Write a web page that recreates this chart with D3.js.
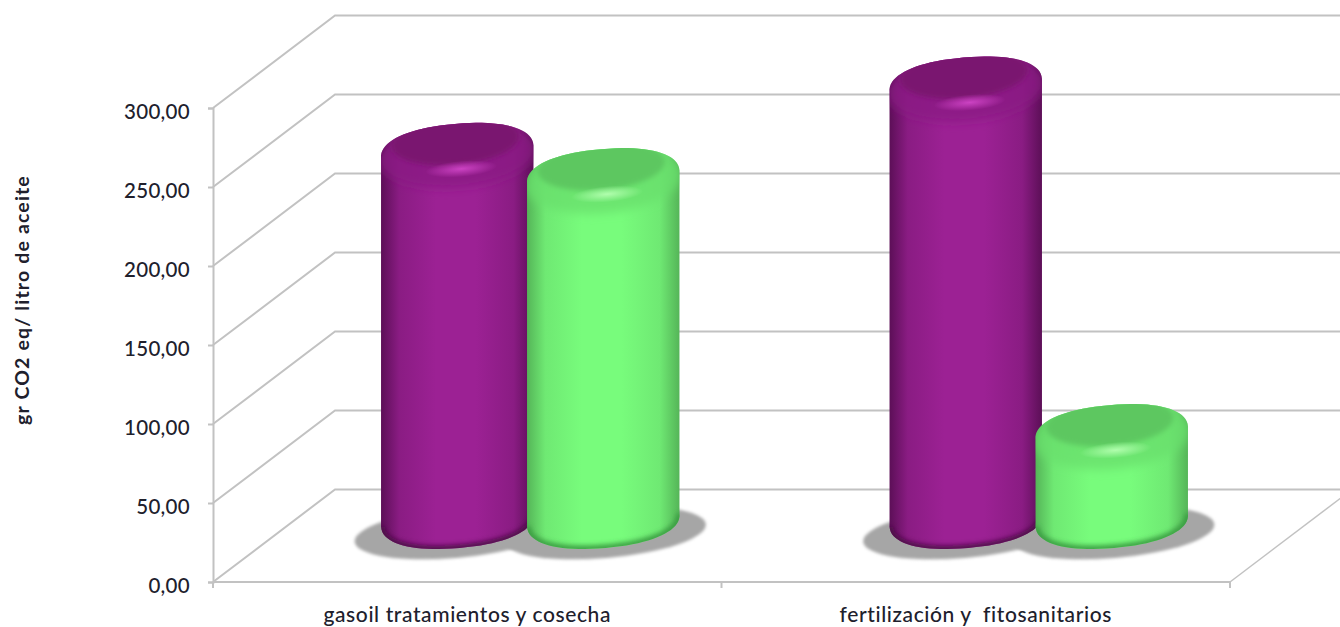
<!DOCTYPE html>
<html>
<head>
<meta charset="utf-8">
<script src="https://cdnjs.cloudflare.com/ajax/libs/d3/7.9.0/d3.min.js"></script>
<style>
html,body{margin:0;padding:0;background:#fff;overflow:hidden}
text{font-family:Lato,"Open Sans",sans-serif;fill:#20202c;white-space:pre}
</style>
</head>
<body>
<svg id="chart" width="1340" height="627"></svg>
<script>
// Emissions per litre of oil, by farm operation and series
const categories = ["gasoil tratamientos y cosecha", "fertilización y  fitosanitarios"];
const seriesNames = ["a", "b"];
const seriesA = [233, 275];
const seriesB = [217, 55];
const yTicks = [0, 50, 100, 150, 200, 250, 300];
const yTitle = "gr CO2 eq/ litro de aceite";

const palettes = {
  a: {edge: "#5c0f57", mid: "#8a1c83", centre: "#9c2194", cap: "#7a166f", band: "#8b1b84", glow: "#cf45c6", rim: "#4f0c4a"},
  b: {edge: "#55b558", mid: "#6fe973", centre: "#78fc7c", cap: "#5dc760", band: "#69e06d", glow: "#b4ffb0", rim: "#3b9e42"}
};

const svg = d3.select("#chart");
const defs = svg.append("defs");
const fmt = d3.formatLocale({decimal: ",", thousands: ".", grouping: [3], currency: ["", ""]}).format(".2f");

// Projection of the 3D box: front plane plus a shift towards the back wall
const depth = {dx: 122, dy: -92.5};
const barShift = {dx: 63, dy: -62};
const y = d3.scaleLinear().domain([0, 300]).range([582, 108]);
const x = d3.scaleBand().domain(categories).range([213, 1230]);
const xSeries = d3.scalePoint().domain(seriesNames).range([-73, 73]);
const gridColor = "#c2c2c2";

// Cylinder shape
const rx = 76.5, ry = 28, tilt = -5, roundness = 2.25;

// Back wall and side wall gridlines
const grid = svg.append("g").attr("fill", "none").attr("stroke", gridColor).attr("stroke-width", 2);
grid.selectAll("path.wall").data(yTicks).join("path").attr("class", "wall")
  .attr("d", v => `M${x.range()[0]},${y(v)}L${x.range()[0] + depth.dx},${y(v) + depth.dy}H1340`);
grid.append("path")
  .attr("d", `M${x.range()[1]},${y(0)}l${depth.dx},${depth.dy}`)
  .attr("stroke-width", 1.5);

// Axes
const yAxis = svg.append("g").attr("transform", `translate(${x.range()[0]},0)`)
  .call(d3.axisLeft(y).tickValues(yTicks).tickFormat(fmt).tickSize(5).tickPadding(18));
yAxis.selectAll("path,line").attr("stroke", gridColor).attr("stroke-width", 2);
yAxis.selectAll("text").attr("font-size", 20.5).attr("font-weight", 500).attr("dy", "0.62em")
  .attr("letter-spacing", 0.3).attr("fill", "#20202c").style("font-family", "Lato").attr("y", -2);

const xAxis = svg.append("g").attr("transform", `translate(0,${y(0)})`);
xAxis.append("path").attr("d", `M${x.range()[0]},0H${x.range()[1]}`).attr("stroke", gridColor).attr("stroke-width", 2);
xAxis.selectAll("line").data([x.range()[0], x.range()[0] + x.bandwidth(), x.range()[1]]).join("line")
  .attr("x1", d => d).attr("x2", d => d).attr("y1", 0).attr("y2", 6)
  .attr("stroke", gridColor).attr("stroke-width", 2);
xAxis.selectAll("text").data(categories).join("text")
  .attr("x", d => x(d) + x.bandwidth() / 2)
  .attr("y", 40).attr("text-anchor", "middle")
  .attr("font-size", 21).attr("font-weight", 500).attr("letter-spacing", 0.6).text(d => d);

svg.append("text")
  .attr("transform", "translate(29,300) rotate(-90)")
  .attr("text-anchor", "middle").attr("font-size", 19.5).attr("font-weight", 700).attr("letter-spacing", 1.15)
  .text(yTitle);

// Filters and gradients
const blur = (id, sd) => defs.append("filter").attr("id", id)
  .attr("x", "-30%").attr("y", "-60%").attr("width", "160%").attr("height", "220%")
  .append("feGaussianBlur").attr("stdDeviation", sd);
blur("soft1", 1.5);
blur("soft2", 2.5);
blur("soft5", 5);

for (const [name, p] of Object.entries(palettes)) {
  const g = defs.append("linearGradient").attr("id", `body-${name}`);
  [[0, p.edge], [0.12, p.mid], [0.36, p.centre], [0.62, p.centre], [0.87, p.mid], [1, p.edge]]
    .forEach(([o, c]) => g.append("stop").attr("offset", o).attr("stop-color", c));
  const r = defs.append("radialGradient").attr("id", `glow-${name}`);
  r.append("stop").attr("offset", 0).attr("stop-color", p.glow).attr("stop-opacity", 0.95);
  r.append("stop").attr("offset", 1).attr("stop-color", p.glow).attr("stop-opacity", 0);
}

// Flatten series into one record per cylinder
const bars = categories.flatMap((c, i) => [
  {cat: c, series: "a", value: seriesA[i]},
  {cat: c, series: "b", value: seriesB[i]}
]).map((d, i) => ({
  ...d, id: i,
  cx: x(d.cat) + x.bandwidth() / 2 + barShift.dx + xSeries(d.series),
  top: y(d.value) + barShift.dy,
  base: y(0) + barShift.dy
}));

// Cast shadows on the floor
svg.append("g").selectAll("ellipse").data(bars).join("ellipse")
  .attr("transform", d => `translate(${d.cx + (d.series === "a" ? -2 : 2)},${d.base + 13}) rotate(${tilt})`)
  .attr("rx", 101).attr("ry", 25)
  .attr("fill", "#a6a6a6").attr("filter", "url(#soft1)");

// Points on a rounded, tilted half-outline around (cx, cy);
// angles run from the given start to end in radians
const rad = tilt * Math.PI / 180;
const rimPoints = (cx, cy, from, to) => d3.range(0, 41).map(i => {
  const a = from + (to - from) * i / 40;
  const c = Math.cos(a), s = Math.sin(a);
  const u = rx * Math.sign(c) * Math.pow(Math.abs(c), 2 / roundness);
  const v = ry * Math.sign(s) * Math.pow(Math.abs(s), 2 / roundness);
  return [cx + u * Math.cos(rad) - v * Math.sin(rad), cy + u * Math.sin(rad) + v * Math.cos(rad)];
});
const line = d3.line();

// Cylinder outline: lower half around the base, upper half around the lid
const cylinderPath = d => line([
  ...rimPoints(d.cx, d.base, Math.PI, 0),
  ...rimPoints(d.cx, d.top, 0, -Math.PI)
]) + "Z";

const cyl = svg.append("g").selectAll("g").data(bars).join("g");
cyl.each(function (d) {
  const p = palettes[d.series];
  const sel = d3.select(this);
  const clipId = `clip-${d.id}`;
  defs.append("clipPath").attr("id", clipId).append("path").attr("d", cylinderPath(d));

  sel.append("path").attr("d", cylinderPath(d)).attr("fill", `url(#body-${d.series})`);

  const inner = sel.append("g").attr("clip-path", `url(#${clipId})`);
  // Darkened rim along the base
  inner.append("path")
    .attr("d", line(rimPoints(d.cx, d.base, Math.PI, 0)))
    .attr("fill", "none").attr("stroke", p.rim).attr("stroke-width", 7)
    .attr("filter", "url(#soft2)");
  // Shaded band around the lid
  inner.append("ellipse")
    .attr("transform", `translate(${d.cx},${d.top + 3}) rotate(${tilt})`)
    .attr("rx", rx + 2).attr("ry", ry + 5)
    .attr("fill", p.band).attr("fill-opacity", 0.8).attr("filter", "url(#soft5)");
  // Recessed lid of the cylinder
  inner.append("ellipse")
    .attr("transform", `translate(${d.cx - 2},${d.top - 11}) rotate(${tilt})`)
    .attr("rx", 64).attr("ry", 24)
    .attr("fill", p.cap).attr("filter", "url(#soft2)");
  // Bright highlight on the front of the lid edge
  inner.append("ellipse")
    .attr("transform", `translate(${d.cx + 4},${d.top + 17}) rotate(${tilt})`)
    .attr("rx", 36).attr("ry", 8)
    .attr("fill", `url(#glow-${d.series})`);
});
</script>
</body>
</html>
